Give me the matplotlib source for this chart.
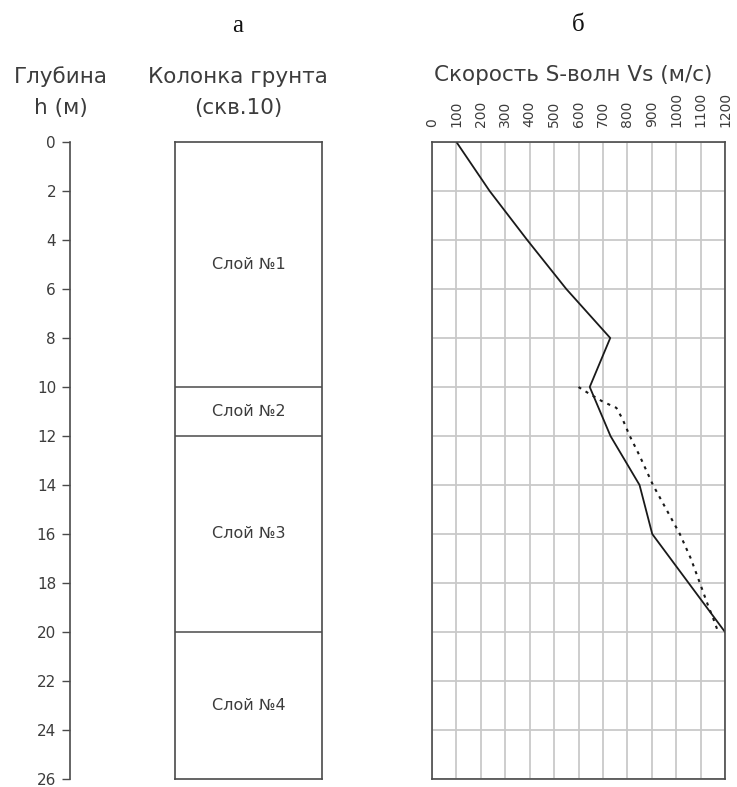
import matplotlib
matplotlib.use("Agg")
import matplotlib.pyplot as plt
from matplotlib.ticker import MultipleLocator

# Depth scale and layer boundaries (m)
depth_ticks = list(range(0, 27, 2))
layer_bounds = [0, 10, 12, 20, 26]
layer_names = ["Слой №1", "Слой №2", "Слой №3", "Слой №4"]

# Shear-wave velocity profiles: depth (m) vs Vs (m/s)
solid_depth = [0, 2, 4, 6, 8, 10, 12, 14, 16, 20]
solid_vs = [100, 236, 390, 550, 730, 646, 731, 850, 902, 1200]

dotted_depth = [10.0, 10.25, 10.6, 10.85, 11.3, 12.0, 12.8, 14.0, 15.0, 16.0, 17.0, 18.0, 18.9, 19.4, 20.0]
dotted_vs = [600, 640, 700, 755, 780, 810, 850, 905, 960, 1015, 1060, 1097, 1130, 1150, 1172]

vs_ticks = list(range(0, 1201, 100))

W, H = 737, 787
fig = plt.figure(figsize=(W / 100, H / 100), dpi=100)

TXT = "#3c3c3c"
EDGE = "#4a4a4a"
GRID = "#c9c9c9"
font = "DejaVu Sans"

def fx(px):
    return px / W

def fy(py):
    return 1 - py / H

top, bottom = 142, 779

# Depth axis
ax_d = fig.add_axes([fx(70), fy(bottom), 0.0001, (bottom - top) / H])
ax_d.set_ylim(26, 0)
ax_d.set_xlim(0, 1)
for s in ["top", "right", "bottom"]:
    ax_d.spines[s].set_visible(False)
ax_d.spines["left"].set_color(EDGE)
ax_d.spines["left"].set_linewidth(1.2)
ax_d.set_xticks([])
ax_d.set_yticks(depth_ticks)
ax_d.tick_params(axis="y", direction="out", length=6, width=1.0, color=EDGE,
                 labelsize=11, labelcolor=TXT, pad=4)

# Soil column
ax_c = fig.add_axes([fx(175), fy(bottom), (322 - 175) / W, (bottom - top) / H])
ax_c.set_ylim(26, 0)
ax_c.set_xlim(0, 1)
ax_c.set_xticks([])
ax_c.set_yticks([])
for s in ax_c.spines.values():
    s.set_color(EDGE)
    s.set_linewidth(1.2)
for b in layer_bounds[1:-1]:
    ax_c.axhline(b, color=EDGE, lw=1.1)
for name, a, b in zip(layer_names, layer_bounds[:-1], layer_bounds[1:]):
    ax_c.text(0.5, (a + b) / 2, name, ha="center", va="center",
              fontsize=11.5, color=TXT, family=font)

# Velocity profile
ax_v = fig.add_axes([fx(432), fy(bottom), (725 - 432) / W, (bottom - top) / H])
ax_v.set_ylim(26, 0)
ax_v.set_xlim(0, 1200)
ax_v.xaxis.set_major_locator(MultipleLocator(100))
ax_v.yaxis.set_major_locator(MultipleLocator(2))
ax_v.grid(True, color=GRID, lw=1.3)
ax_v.set_axisbelow(True)
ax_v.xaxis.tick_top()
ax_v.set_xticks(vs_ticks)
ax_v.set_xticklabels([str(v) for v in vs_ticks], rotation=90)
ax_v.tick_params(axis="x", length=0, pad=11, labelsize=10, labelcolor=TXT)
ax_v.tick_params(axis="y", length=0, labelleft=False)
for s in ax_v.spines.values():
    s.set_color(EDGE)
    s.set_linewidth(1.2)
ax_v.plot(solid_vs, solid_depth, color="#1a1a1a", lw=1.3)
ax_v.plot(dotted_vs, dotted_depth, color="#1a1a1a", lw=1.5, ls=(0, (1.5, 2.5)))

# Headings
hs = 15.5
fig.text(fx(61), fy(77), "Глубина", ha="center", va="center", fontsize=hs, color=TXT, family=font)
fig.text(fx(61), fy(108), "h (м)", ha="center", va="center", fontsize=hs, color=TXT, family=font)
fig.text(fx(238), fy(77), "Колонка грунта", ha="center", va="center", fontsize=hs, color=TXT, family=font)
fig.text(fx(238), fy(108), "(скв.10)", ha="center", va="center", fontsize=hs, color=TXT, family=font)
fig.text(fx(573), fy(75), "Скорость S-волн Vs (м/с)", ha="center", va="center", fontsize=hs, color=TXT, family=font)

fig.text(fx(238), fy(26), "а", ha="center", va="center", fontsize=18, family="Liberation Serif", color="#111")
fig.text(fx(578), fy(25), "б", ha="center", va="center", fontsize=18, family="Liberation Serif", color="#111")

fig.savefig("out.png", dpi=100, facecolor="white")
